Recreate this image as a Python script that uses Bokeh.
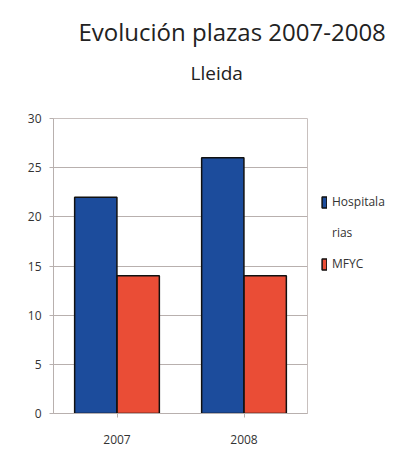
from bokeh.plotting import figure
from bokeh.models import ColumnDataSource, Legend, LegendItem, Title, FactorRange
from bokeh.transform import dodge
from bokeh.embed import file_html
from bokeh.resources import INLINE

years = ["2007", "2008"]
hospitalarias = [22, 26]
mfyc = [14, 14]
series_labels = ["Hospitala", "rias", "MFYC"]
yticks = [0, 5, 10, 15, 20, 25, 30]

FONT = "Open Sans"

src = ColumnDataSource(dict(year=years, hosp=hospitalarias, mfyc=mfyc))

p = figure(x_range=FactorRange(*years, range_padding=0), y_range=(0, 30),
           frame_width=254, frame_height=295,
           min_border_left=53, min_border_right=90, min_border_top=118, min_border_bottom=36,
           output_backend="svg", toolbar_location=None)

r1 = p.vbar(x=dodge("year", -0.167, range=p.x_range), top="hosp", width=0.333, source=src,
            fill_color="#1c4c9c", line_color="#111111", line_width=1.5)
r2 = p.vbar(x=dodge("year", 0.167, range=p.x_range), top="mfyc", width=0.333, source=src,
            fill_color="#ea4d36", line_color="#111111", line_width=1.5)
# invisible renderer so the wrapped second line of the label has no swatch
r_blank = p.vbar(x=[], top=[], width=0.1, fill_alpha=0, line_alpha=0)

p.yaxis.ticker = yticks
p.ygrid.grid_line_color = "#b8b0ae"
p.xgrid.grid_line_color = None
p.outline_line_color = "#c8c0be"
for ax in (p.xaxis[0], p.yaxis[0]):
    ax.axis_line_color = "#b8b0ae"
    ax.major_tick_line_color = "#b8b0ae"
    ax.minor_tick_line_color = None
    ax.major_label_text_font = FONT
    ax.major_label_text_font_size = "12px"
    ax.major_label_text_color = "#333333"
p.xaxis.major_tick_out = 4
p.xaxis.major_tick_in = 0
p.xaxis.major_label_standoff = 17
p.yaxis.major_tick_out = 4
p.yaxis.major_tick_in = 0
p.yaxis.major_label_standoff = 8

legend = Legend(items=[LegendItem(label=series_labels[0], renderers=[r1]),
                       LegendItem(label=series_labels[1], renderers=[r_blank]),
                       LegendItem(label=series_labels[2], renderers=[r2])],
                location=(14, 141), border_line_color=None, background_fill_alpha=0,
                label_text_font=FONT, label_text_font_size="12px", label_text_color="#333333",
                glyph_width=6, glyph_height=14, spacing=14, padding=2, label_standoff=5,
                label_height=14, margin=0)
p.add_layout(legend, "right")

# spacer between the frame and the subtitle
p.add_layout(Title(text=" ", text_font=FONT, text_font_size="1px", standoff=30), "above")
p.add_layout(Title(text="Lleida", text_font=FONT, text_font_size="19px", text_color="#222222",
                   text_font_style="normal", align="left", offset=137, standoff=0), "above")
p.add_layout(Title(text="Evolución plazas 2007-2008", text_font=FONT, text_font_size="24px",
                   text_color="#222222", text_font_style="normal", align="left", offset=25,
                   standoff=19), "above")

p.background_fill_color = "white"
p.border_fill_color = "white"

open("out.html", "w").write(file_html(p, INLINE))
